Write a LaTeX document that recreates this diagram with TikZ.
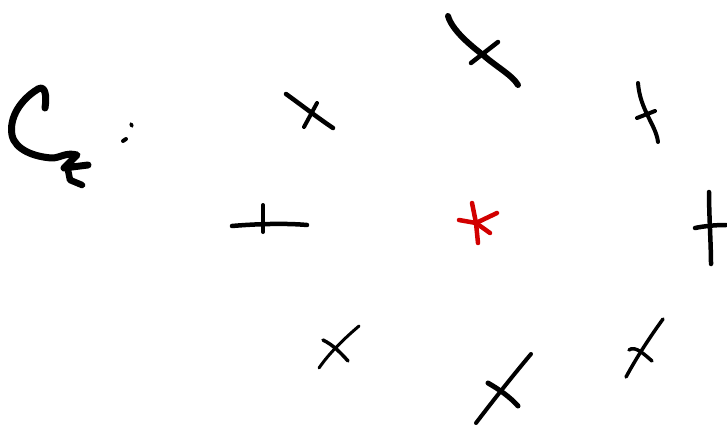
\documentclass[tikz,border=0pt]{standalone}
\definecolor{inkred}{RGB}{210,0,0}
\tikzset{
  pen/.style={black, line width=#1, line cap=round, line join=round},
  pen/.default=4pt,
  redpen/.style={inkred, line width=4.5pt, line cap=round, line join=round}
}
\begin{document}
\begin{tikzpicture}[x=1pt,y=-1pt]
\useasboundingbox (0,0) rectangle (727,433);
% C_z label
\draw[pen=7pt] (45,108) .. controls (47,95) and (45,85) .. (38,89)
  .. controls (20,100) and (9,118) .. (12,135)
  .. controls (15,150) and (35,157) .. (52,158)
  .. controls (60,158) and (66,152) .. (77,155)
  -- (64,168) -- (88,165);
\draw[pen=6.5pt] (68,170) -- (70,180) -- (82,185);
\draw[pen=3.5pt] (131,124) -- (132,126);
\draw[pen=4pt] (123,141) -- (126,139);
% top cross
\draw[pen=6pt] (448,16) .. controls (452,30) and (470,45) .. (483,55) .. controls (498,68) and (512,75) .. (518,85);
\draw[pen=4.5pt] (471,63) -- (498,42);
% upper left cross
\draw[pen=4.5pt] (286,94) .. controls (300,104) and (318,118) .. (333,128);
\draw[pen=4pt] (317,103) -- (304,127);
% left plus
\draw[pen=4.5pt] (232,226) .. controls (255,224) and (285,223) .. (307,225);
\draw[pen=4pt] (263,205) -- (263,232);
% upper right cross
\draw[pen=4pt] (638,83) .. controls (640,110) and (656,125) .. (658,142);
\draw[pen=4pt] (637,118) -- (655,111);
% right plus
\draw[pen=4.5pt] (709,192) .. controls (709,215) and (711,245) .. (711,264);
\draw[pen=4.5pt] (695,228) .. controls (705,226) and (715,225) .. (726,225);
% lower left cross
\draw[pen=3pt] (319,368) .. controls (330,352) and (345,338) .. (359,326);
\draw[pen=3.5pt] (323,340) .. controls (333,345) and (340,352) .. (348,361);
% bottom cross
\draw[pen=4pt] (476,423) .. controls (495,398) and (515,373) .. (531,354);
\draw[pen=5pt] (488,383) .. controls (500,390) and (510,397) .. (518,406);
% lower right cross
\draw[pen=3.5pt] (626,377) .. controls (638,355) and (650,337) .. (663,319);
\draw[pen=3.5pt] (629,350) .. controls (635,345) and (645,355) .. (652,361);
% red asterisk
\coordinate (c) at (476,223);
\draw[redpen] (472,203) -- (c) -- (478,243);
\draw[redpen] (459,220) -- (c) -- (497,213);
\draw[redpen] (c) -- (490,233);
\end{tikzpicture}
\end{document}
